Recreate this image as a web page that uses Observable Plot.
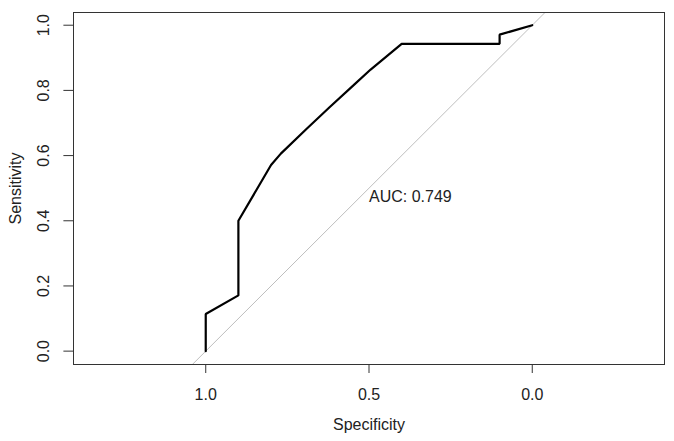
<!DOCTYPE html>
<html>
<head>
<meta charset="utf-8">
<script src="https://cdn.jsdelivr.net/npm/d3@7"></script>
<script src="https://cdn.jsdelivr.net/npm/@observablehq/plot@0.6"></script>
<style>
  html, body { margin: 0; padding: 0; background: #fff; }
  #chart svg { display: block; }
</style>
</head>
<body>
<div id="chart"></div>
<script>
// ROC curve (specificity, sensitivity)
const specificity = [1, 1, 0.9, 0.9, 0.8, 0.77, 0.69, 0.62, 0.547, 0.495, 0.4, 0.1, 0.1, 0];
const sensitivity = [0, 0.114, 0.171, 0.4, 0.571, 0.606, 0.683, 0.749, 0.816, 0.864, 0.943, 0.943, 0.971, 1];
// chance diagonal: sensitivity = 1 - specificity
const diagSpec = [1.5, -0.5];
const xTicks = [1.0, 0.5, 0.0];
const yTicks = [0.0, 0.2, 0.4, 0.6, 0.8, 1.0];
const aucLabel = "AUC: 0.749";
const aucPos = [0.5, 0.5];

const roc = specificity.map((s, i) => ({spec: s, sens: sensitivity[i]}));
const diag = diagSpec.map(s => ({spec: s, sens: 1 - s}));
const fmt = d3.format(".1f");

const chart = Plot.plot({
  width: 674,
  height: 441,
  marginLeft: 73,
  marginRight: 10,
  marginTop: 12,
  marginBottom: 77,
  style: {fontFamily: "'Liberation Sans', Arial, sans-serif", fontSize: "16px", color: "#222", background: "#fff"},
  x: {domain: [1.405, -0.405]},
  y: {domain: [-0.041, 1.039]},
  marks: [
    Plot.line(diag, {x: "spec", y: "sens", stroke: "#bebebe", strokeWidth: 1, clip: true}),
    Plot.line(roc, {x: "spec", y: "sens", stroke: "#000", strokeWidth: 2.2, strokeLinejoin: "miter"}),
    Plot.text([aucLabel], {x: () => aucPos[0], y: () => aucPos[1], text: d => d, textAnchor: "start", lineAnchor: "top", dy: 2, fill: "#222", fontSize: 16}),
    Plot.frame({stroke: "#333", strokeWidth: 1}),
    Plot.axisX({ticks: xTicks, tickSize: 9, tickFormat: () => "", label: null, stroke: "#333"}),
    Plot.axisY({ticks: yTicks, tickSize: 9.6, tickFormat: () => "", label: null, stroke: "#333"}),
    Plot.text(xTicks, {x: d => d, frameAnchor: "bottom", dy: 30, text: d => fmt(d), lineAnchor: "middle", fill: "#222", fontSize: 16}),
    Plot.text(yTicks, {y: d => d, frameAnchor: "left", dx: -30, rotate: -90, text: d => fmt(d), textAnchor: "middle", lineAnchor: "middle", fill: "#222", fontSize: 16}),
    Plot.text(["Specificity"], {frameAnchor: "bottom", dy: 60, text: d => d, lineAnchor: "middle", fill: "#222", fontSize: 16}),
    Plot.text(["Sensitivity"], {frameAnchor: "left", dx: -58, rotate: -90, text: d => d, textAnchor: "middle", lineAnchor: "middle", fill: "#222", fontSize: 16})
  ]
});
document.getElementById("chart").appendChild(chart);
</script>
</body>
</html>
